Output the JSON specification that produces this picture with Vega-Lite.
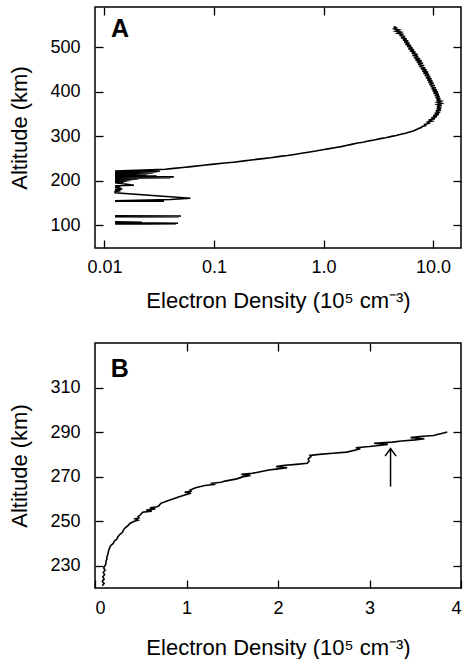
{
  "$schema": "https://vega.github.io/schema/vega-lite/v6.json",
  "padding": {"left": 8, "top": 5, "right": 6, "bottom": 0},
  "spacing": 29,
  "config": {
    "font": "Liberation Sans",
    "view": {"stroke": "black", "strokeWidth": 1.5},
    "axis": {
      "grid": false, "domain": false, "tickColor": "black", "tickSize": -8, "tickWidth": 1.3,
      "labelFont": "Liberation Sans", "labelFontSize": 18, "labelColor": "black",
      "titleFont": "Liberation Sans", "titleFontSize": 22, "titleFontWeight": "normal", "titleColor": "black"
    }
  },
  "datasets": {
    "a": [
      {"s":1,"alt":547,"v":4.37},{"s":1,"alt":544.5,"v":4.6},{"s":1,"alt":542,"v":4.4},{"s":1,"alt":539.5,"v":4.9},{"s":1,"alt":537,"v":4.55},{"s":1,"alt":534.5,"v":5.1},{"s":1,"alt":532,"v":4.75},{"s":1,"alt":529.5,"v":5.35},{"s":1,"alt":527,"v":4.95},{"s":1,"alt":524.5,"v":5.55},{"s":1,"alt":522,"v":5.1},{"s":1,"alt":519.5,"v":5.75},{"s":1,"alt":517,"v":5.3},{"s":1,"alt":514.5,"v":5.95},{"s":1,"alt":512,"v":5.45},{"s":1,"alt":509.5,"v":6.1},{"s":1,"alt":507,"v":5.6},{"s":1,"alt":504.5,"v":6.3},{"s":1,"alt":502,"v":5.8},{"s":1,"alt":499.5,"v":6.5},{"s":1,"alt":497,"v":5.95},{"s":1,"alt":494.5,"v":6.7},{"s":1,"alt":492,"v":6.15},{"s":1,"alt":489.5,"v":6.9},{"s":1,"alt":487,"v":6.4},{"s":1,"alt":484.5,"v":7.2},{"s":1,"alt":482,"v":6.5},{"s":1,"alt":479.5,"v":7.35},{"s":1,"alt":477,"v":6.7},{"s":1,"alt":474.5,"v":7.65},{"s":1,"alt":472,"v":6.9},{"s":1,"alt":469.5,"v":7.9},{"s":1,"alt":467,"v":7.1},{"s":1,"alt":464.5,"v":8.1},{"s":1,"alt":462,"v":7.3},{"s":1,"alt":459.5,"v":8.3},{"s":1,"alt":457,"v":7.5},{"s":1,"alt":454.5,"v":8.5},{"s":1,"alt":452,"v":7.75},{"s":1,"alt":449.5,"v":8.75},{"s":1,"alt":447,"v":7.95},{"s":1,"alt":444.5,"v":9.0},{"s":1,"alt":442,"v":8.15},{"s":1,"alt":439.5,"v":9.2},{"s":1,"alt":437,"v":8.4},{"s":1,"alt":434.5,"v":9.45},{"s":1,"alt":432,"v":8.6},{"s":1,"alt":429.5,"v":9.7},{"s":1,"alt":427,"v":8.85},{"s":1,"alt":424.5,"v":9.9},{"s":1,"alt":422,"v":9.05},{"s":1,"alt":419.5,"v":10.15},{"s":1,"alt":417,"v":9.25},{"s":1,"alt":414.5,"v":10.4},{"s":1,"alt":412,"v":9.5},{"s":1,"alt":409.5,"v":10.6},{"s":1,"alt":407,"v":9.7},{"s":1,"alt":404.5,"v":10.85},{"s":1,"alt":402,"v":9.9},{"s":1,"alt":399.5,"v":11.1},{"s":1,"alt":397,"v":10.1},{"s":1,"alt":394.5,"v":11.3},{"s":1,"alt":392,"v":10.35},{"s":1,"alt":389.5,"v":11.5},{"s":1,"alt":387,"v":10.55},{"s":1,"alt":384.5,"v":11.7},{"s":1,"alt":382,"v":10.75},{"s":1,"alt":379.5,"v":11.85},{"s":1,"alt":377,"v":10.9},{"s":1,"alt":374.5,"v":11.95},{"s":1,"alt":372,"v":10.95},{"s":1,"alt":369.5,"v":12.0},{"s":1,"alt":367,"v":10.85},{"s":1,"alt":364.5,"v":11.9},{"s":1,"alt":362,"v":10.8},{"s":1,"alt":359.5,"v":11.8},{"s":1,"alt":357,"v":10.6},{"s":1,"alt":354.5,"v":11.6},{"s":1,"alt":352,"v":10.35},{"s":1,"alt":349.5,"v":11.3},{"s":1,"alt":347,"v":10.05},{"s":1,"alt":344.5,"v":10.85},{"s":1,"alt":342,"v":9.65},{"s":1,"alt":339.5,"v":10.4},{"s":1,"alt":337,"v":9.1},{"s":1,"alt":334.5,"v":9.8},{"s":1,"alt":332,"v":8.9},{"s":1,"alt":329.5,"v":9.2},{"s":1,"alt":327,"v":8.4},{"s":1,"alt":324.5,"v":8.55},{"s":1,"alt":322,"v":7.9},{"s":1,"alt":320,"v":7.8},
      {"s":1,"alt":317,"v":7.3},{"s":1,"alt":315,"v":7.0},{"s":1,"alt":312,"v":6.6},{"s":1,"alt":310,"v":6.1},{"s":1,"alt":307,"v":5.6},{"s":1,"alt":305,"v":5.1},{"s":1,"alt":302,"v":4.6},{"s":1,"alt":300,"v":4.2},
      {"s":1,"alt":297,"v":3.7},{"s":1,"alt":295,"v":3.3},{"s":1,"alt":292,"v":2.9},{"s":1,"alt":290,"v":2.6},{"s":1,"alt":287,"v":2.3},{"s":1,"alt":285,"v":2.05},{"s":1,"alt":282,"v":1.8},{"s":1,"alt":280,"v":1.65},{"s":1,"alt":277,"v":1.45},{"s":1,"alt":275,"v":1.3},{"s":1,"alt":272,"v":1.1},{"s":1,"alt":270,"v":0.98},{"s":1,"alt":267,"v":0.85},{"s":1,"alt":265,"v":0.75},{"s":1,"alt":262,"v":0.63},{"s":1,"alt":260,"v":0.56},{"s":1,"alt":257,"v":0.47},{"s":1,"alt":255,"v":0.4},{"s":1,"alt":252,"v":0.33},{"s":1,"alt":250,"v":0.28},{"s":1,"alt":247,"v":0.22},{"s":1,"alt":245,"v":0.19},{"s":1,"alt":242,"v":0.15},{"s":1,"alt":240,"v":0.125},{"s":1,"alt":237,"v":0.095},{"s":1,"alt":235,"v":0.08},{"s":1,"alt":232,"v":0.062},{"s":1,"alt":230,"v":0.052},{"s":1,"alt":228,"v":0.043},{"s":1,"alt":226,"v":0.036},
      {"s":1,"alt":222,"v":0.0125},{"s":1,"alt":221.5,"v":0.032},{"s":1,"alt":220.5,"v":0.0125},{"s":1,"alt":220,"v":0.03},{"s":1,"alt":219,"v":0.0125},{"s":1,"alt":218.5,"v":0.028},{"s":1,"alt":217.5,"v":0.0125},{"s":1,"alt":217,"v":0.027},{"s":1,"alt":216,"v":0.0125},{"s":1,"alt":215.5,"v":0.025},{"s":1,"alt":214.5,"v":0.0125},{"s":1,"alt":214,"v":0.024},{"s":1,"alt":213,"v":0.0125},{"s":1,"alt":212.5,"v":0.022},{"s":1,"alt":211.5,"v":0.0125},{"s":1,"alt":211,"v":0.03},{"s":1,"alt":210,"v":0.0125},{"s":1,"alt":209,"v":0.043},{"s":1,"alt":208,"v":0.0125},{"s":1,"alt":207,"v":0.04},{"s":1,"alt":206,"v":0.0125},{"s":1,"alt":205.5,"v":0.021},{"s":1,"alt":204.5,"v":0.0125},{"s":1,"alt":204,"v":0.02},{"s":1,"alt":203,"v":0.0125},{"s":1,"alt":202.5,"v":0.018},{"s":1,"alt":201.5,"v":0.0125},{"s":1,"alt":201,"v":0.017},{"s":1,"alt":200,"v":0.0125},{"s":1,"alt":199,"v":0.016},{"s":1,"alt":198,"v":0.0125},{"s":1,"alt":197,"v":0.015},{"s":1,"alt":196,"v":0.0125},{"s":1,"alt":190,"v":0.0186},{"s":1,"alt":189,"v":0.0125},{"s":1,"alt":187,"v":0.014},{"s":1,"alt":185,"v":0.0125},{"s":1,"alt":182,"v":0.0145},{"s":1,"alt":180,"v":0.0125},{"s":1,"alt":178,"v":0.014},{"s":1,"alt":176,"v":0.0125},{"s":1,"alt":173,"v":0.0125},{"s":1,"alt":161,"v":0.061},{"s":1,"alt":158,"v":0.04},{"s":1,"alt":156,"v":0.02},{"s":1,"alt":155,"v":0.0125},{"s":1,"alt":154.5,"v":0.035},{"s":1,"alt":154,"v":0.0125},
      {"s":2,"alt":121.5,"v":0.0125},{"s":2,"alt":121,"v":0.05},{"s":2,"alt":120.5,"v":0.0125},{"s":2,"alt":119.5,"v":0.048},{"s":2,"alt":119,"v":0.0125},
      {"s":3,"alt":108,"v":0.0125},{"s":3,"alt":107,"v":0.022},{"s":3,"alt":106,"v":0.0125},{"s":3,"alt":104.5,"v":0.047},{"s":3,"alt":104,"v":0.0125},{"s":3,"alt":103,"v":0.045},{"s":3,"alt":102.5,"v":0.0125}
    ],
    "b": [
      {"alt":221,"v":0.08},{"alt":222,"v":0.1},{"alt":223,"v":0.08},{"alt":224,"v":0.1},{"alt":225,"v":0.085},{"alt":226,"v":0.105},{"alt":227,"v":0.09},{"alt":228,"v":0.11},{"alt":229,"v":0.095},{"alt":230,"v":0.11},{"alt":231,"v":0.12},{"alt":232,"v":0.12},{"alt":233,"v":0.13},{"alt":234,"v":0.13},{"alt":235,"v":0.14},{"alt":236,"v":0.145},{"alt":237,"v":0.15},{"alt":238,"v":0.16},{"alt":239,"v":0.17},{"alt":240,"v":0.2},{"alt":241,"v":0.21},{"alt":242,"v":0.24},{"alt":243,"v":0.25},{"alt":244,"v":0.27},{"alt":245,"v":0.3},{"alt":246,"v":0.31},{"alt":247,"v":0.33},{"alt":248,"v":0.36},{"alt":249,"v":0.38},{"alt":250,"v":0.43},{"alt":250.5,"v":0.47},{"alt":251,"v":0.44},{"alt":251.5,"v":0.48},{"alt":252,"v":0.47},{"alt":253,"v":0.5},{"alt":254,"v":0.52},{"alt":254.5,"v":0.62},{"alt":255,"v":0.56},{"alt":255.5,"v":0.66},{"alt":256,"v":0.6},{"alt":256.5,"v":0.68},{"alt":257,"v":0.7},{"alt":258,"v":0.72},{"alt":259,"v":0.78},{"alt":260,"v":0.85},{"alt":261,"v":0.92},{"alt":262,"v":1.0},{"alt":262.5,"v":1.05},{"alt":263,"v":0.98},{"alt":263.5,"v":1.05},{"alt":264,"v":1.04},{"alt":265,"v":1.1},{"alt":266,"v":1.2},{"alt":266.5,"v":1.3},{"alt":267,"v":1.28},{"alt":267.5,"v":1.38},{"alt":268,"v":1.42},{"alt":269,"v":1.55},{"alt":270,"v":1.62},{"alt":270.5,"v":1.7},{"alt":271,"v":1.6},{"alt":271.5,"v":1.72},{"alt":272,"v":1.78},{"alt":273,"v":1.9},{"alt":273.5,"v":2.0},{"alt":274,"v":2.1},{"alt":274.5,"v":1.98},{"alt":275,"v":2.05},{"alt":275.5,"v":2.2},{"alt":276,"v":2.32},{"alt":277,"v":2.34},{"alt":278,"v":2.33},{"alt":279,"v":2.36},{"alt":279.5,"v":2.35},{"alt":280,"v":2.45},{"alt":280.5,"v":2.6},{"alt":281,"v":2.75},{"alt":282,"v":2.85},{"alt":282.5,"v":2.9},{"alt":283,"v":2.85},{"alt":283.5,"v":3.0},{"alt":284,"v":3.1},{"alt":284.5,"v":3.2},{"alt":285,"v":3.05},{"alt":285.5,"v":3.25},{"alt":286,"v":3.35},{"alt":286.5,"v":3.5},{"alt":287,"v":3.6},{"alt":287.5,"v":3.45},{"alt":288,"v":3.55},{"alt":288.5,"v":3.7},{"alt":289,"v":3.75},{"alt":289.5,"v":3.8},{"alt":290,"v":3.85}
    ],
    "arrowhead": [
      {"v":3.17,"alt":279.2,"k":1},{"v":3.23,"alt":282.6,"k":2},{"v":3.29,"alt":279.2,"k":3}
    ]
  },
  "vconcat": [
    {
      "width": 366,
      "height": 241,
      "resolve": {"axis": {"x": "independent", "y": "independent"}},
      "layer": [
        {
          "data": {"name": "a"},
          "mark": {"type": "line", "color": "black", "strokeWidth": 1.6},
          "encoding": {
            "x": {"field": "v", "type": "quantitative",
              "scale": {"type": "log", "domain": [0.0082, 18]},
              "axis": {"orient": "bottom", "values": [0.01, 0.1, 1, 10], "labelPadding": 18, "titlePadding": 14,
                "labelExpr": "datum.value == 0.01 ? '0.01' : datum.value == 0.1 ? '0.1' : datum.value == 1 ? '1.0' : '10.0'"},
              "title": "Electron Density (10⁵ cm⁻³)"},
            "y": {"field": "alt", "type": "quantitative",
              "scale": {"domain": [49, 591]},
              "axis": {"orient": "left", "values": [100, 200, 300, 400, 500], "labelPadding": 23, "titlePadding": 18},
              "title": "Altitude (km)"},
            "detail": {"field": "s"},
            "order": {"field": "alt"}
          }
        },
        {
          "data": {"values": [{"v": 0.0139, "alt": 542, "t": "A"}]},
          "mark": {"type": "text", "fontSize": 25, "fontWeight": "bold", "font": "Liberation Sans", "color": "black"},
          "encoding": {
            "x": {"field": "v", "type": "quantitative", "scale": {"type": "log", "domain": [0.0082, 18]},
              "axis": {"orient": "top", "values": [0.01, 0.1, 1, 10], "labels": false, "title": null}},
            "y": {"field": "alt", "type": "quantitative", "scale": {"domain": [49, 591]},
              "axis": {"orient": "right", "values": [100, 200, 300, 400, 500], "labels": false, "title": null}},
            "text": {"field": "t"}
          }
        }
      ]
    },
    {
      "width": 366,
      "height": 245,
      "resolve": {"axis": {"x": "independent", "y": "independent"}},
      "layer": [
        {
          "data": {"name": "b"},
          "mark": {"type": "line", "color": "black", "strokeWidth": 1.6},
          "encoding": {
            "x": {"field": "v", "type": "quantitative", "scale": {"domain": [0, 4]},
              "axis": {"orient": "bottom", "values": [0, 1, 2, 3, 4], "labelPadding": 19, "titlePadding": 20},
              "title": "Electron Density (10⁵ cm⁻³)"},
            "y": {"field": "alt", "type": "quantitative", "scale": {"domain": [220.5, 328]},
              "axis": {"orient": "left", "values": [230, 250, 270, 290, 310], "labelPadding": 23, "titlePadding": 18},
              "title": "Altitude (km)"},
            "order": {"field": "alt"}
          }
        },
        {
          "data": {"values": [{"v": 0.27, "alt": 318.3, "t": "B"}]},
          "mark": {"type": "text", "fontSize": 25, "fontWeight": "bold", "font": "Liberation Sans", "color": "black"},
          "encoding": {
            "x": {"field": "v", "type": "quantitative", "scale": {"domain": [0, 4]},
              "axis": {"orient": "top", "values": [1, 2, 3], "labels": false, "title": null}},
            "y": {"field": "alt", "type": "quantitative", "scale": {"domain": [220.5, 328]},
              "axis": {"orient": "right", "values": [230, 250, 270, 290, 310], "labels": false, "title": null}},
            "text": {"field": "t"}
          }
        },
        {
          "data": {"values": [{"v": 3.23, "alt": 265.5, "alt2": 282.6}]},
          "mark": {"type": "rule", "color": "black", "strokeWidth": 1.5},
          "encoding": {
            "x": {"field": "v", "type": "quantitative", "axis": null},
            "y": {"field": "alt", "type": "quantitative", "axis": null},
            "y2": {"field": "alt2"}
          }
        },
        {
          "data": {"name": "arrowhead"},
          "mark": {"type": "line", "color": "black", "strokeWidth": 1.5},
          "encoding": {
            "x": {"field": "v", "type": "quantitative", "axis": null},
            "y": {"field": "alt", "type": "quantitative", "axis": null},
            "order": {"field": "k"}
          }
        }
      ]
    }
  ]
}
